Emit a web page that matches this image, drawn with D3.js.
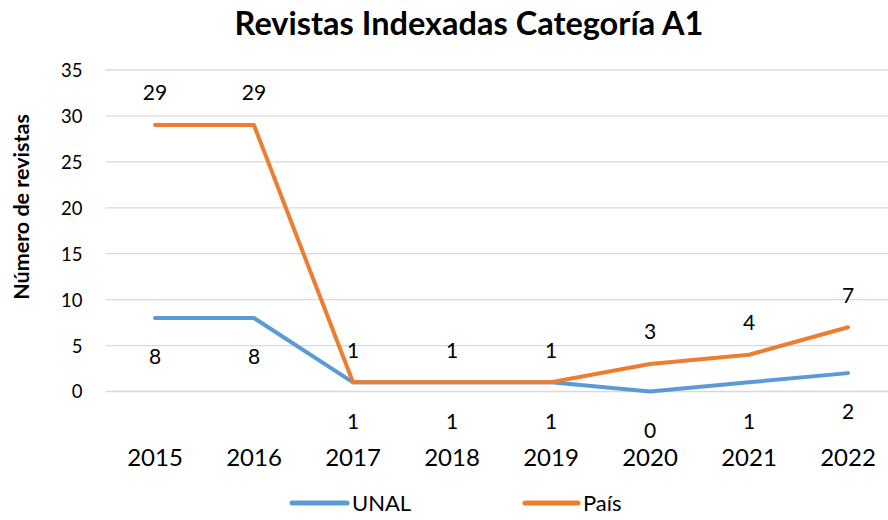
<!DOCTYPE html>
<html>
<head>
<meta charset="utf-8">
<script src="https://cdn.jsdelivr.net/npm/d3@7"></script>
<style>
  html, body { margin: 0; padding: 0; background: #fff; }
  svg { display: block; font-family: Lato, "Noto Sans", sans-serif; }
</style>
</head>
<body>
<svg id="chart" width="888" height="520"></svg>
<script>
const categories = ["2015", "2016", "2017", "2018", "2019", "2020", "2021", "2022"];
const unal = [8, 8, 1, 1, 1, 0, 1, 2];
const pais = [29, 29, 1, 1, 1, 3, 4, 7];
const yTicks = [0, 5, 10, 15, 20, 25, 30, 35];
const seriesNames = ["UNAL", "País"];
const title = "Revistas Indexadas Categoría A1";
const yTitle = "Número de revistas";

const colors = { UNAL: "#5B9BD5", "País": "#ED7D31" };

const svg = d3.select("#chart");
const plotLeft = 105.5, plotRight = 897.5, plotTop = 70, plotBottom = 391.5;

const x = d3.scaleBand().domain(categories).range([plotLeft, plotRight]);
const y = d3.scaleLinear().domain([0, 35]).range([plotBottom, plotTop]);
const cx = d => x(d) + x.bandwidth() / 2;

// gridlines
svg.append("g").selectAll("line").data(yTicks).join("line")
  .attr("x1", plotLeft).attr("x2", plotRight)
  .attr("y1", d => y(d)).attr("y2", d => y(d))
  .attr("stroke", "#D9D9D9").attr("stroke-width", 1.3);

// y tick labels
const yAxis = d3.axisLeft(y).tickValues(yTicks).tickSize(0).tickPadding(0);
const gy = svg.append("g").attr("transform", `translate(${plotLeft - 23},0)`).call(yAxis);
gy.select(".domain").remove();
gy.selectAll("text").attr("font-size", 18.5).attr("fill", "#000")
  .attr("font-family", "Lato, 'Noto Sans', sans-serif").attr("dy", "0.35em");

// x tick labels
const xAxis = d3.axisBottom(x).tickSize(0).tickPadding(0);
const gx = svg.append("g").attr("transform", `translate(0,458)`).call(xAxis);
gx.select(".domain").remove();
gx.selectAll("text").attr("font-size", 24).attr("fill", "#000")
  .attr("font-family", "Lato, 'Noto Sans', sans-serif").attr("dy", "0.35em");

// lines
const line = d3.line().x((d, i) => cx(categories[i])).y(d => y(d));
const series = [
  { name: "UNAL", values: unal, off: 39 },
  { name: "País", values: pais, off: -32 }
];
series.forEach(s => {
  svg.append("path").datum(s.values)
    .attr("d", line)
    .attr("fill", "none")
    .attr("stroke", colors[s.name])
    .attr("stroke-width", 4)
    .attr("stroke-linecap", "round")
    .attr("stroke-linejoin", "round");
});

// data labels
series.forEach(s => {
  svg.append("g").selectAll("text").data(s.values).join("text")
    .attr("x", (d, i) => cx(categories[i]))
    .attr("y", d => y(d) + s.off)
    .attr("dy", "0.35em")
    .attr("text-anchor", "middle")
    .attr("font-size", 21)
    .attr("fill", "#000")
    .text(d => d);
});

// title
svg.append("text")
  .attr("x", 469).attr("y", 24).attr("dy", "0.35em")
  .attr("text-anchor", "middle")
  .attr("font-size", 32.5).attr("font-weight", "bold")
  .text(title);

// y axis title
svg.append("text")
  .attr("transform", "translate(21,207) rotate(-90)")
  .attr("dy", "0.35em")
  .attr("text-anchor", "middle")
  .attr("font-size", 21.5).attr("font-weight", "bold")
  .text(yTitle);

// legend
const legendItems = [
  { name: seriesNames[0], x1: 292, x2: 347 },
  { name: seriesNames[1], x1: 525, x2: 578 }
];
const lg = svg.append("g");
legendItems.forEach(it => {
  lg.append("line")
    .attr("x1", it.x1).attr("x2", it.x2).attr("y1", 503).attr("y2", 503)
    .attr("stroke", colors[it.name]).attr("stroke-width", 5)
    .attr("stroke-linecap", "round");
  lg.append("text")
    .attr("x", it.x2 + 5).attr("y", 503).attr("dy", "0.35em")
    .attr("font-size", 22).attr("fill", "#000")
    .text(it.name);
});
</script>
</body>
</html>
